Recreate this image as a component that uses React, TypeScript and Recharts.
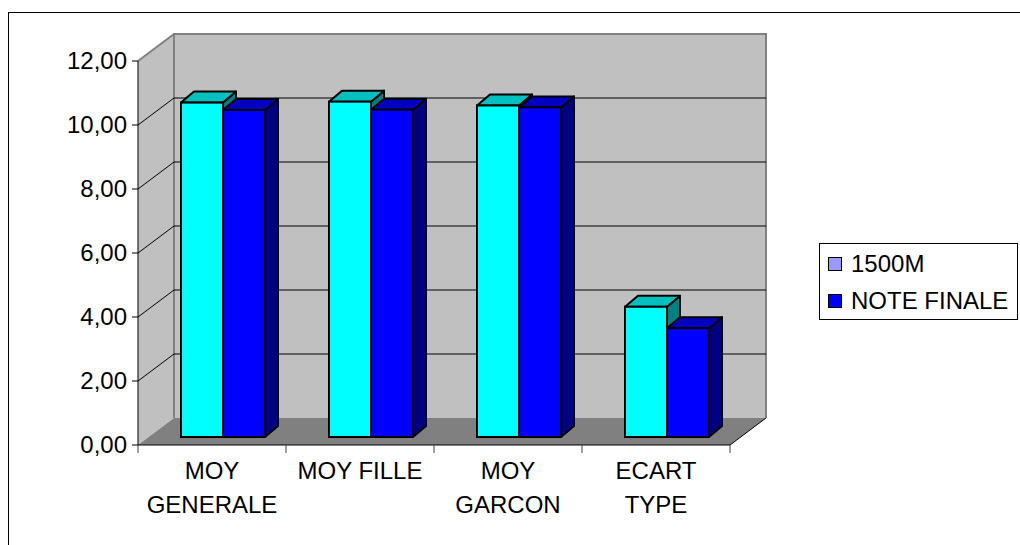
import React from 'react';
import { BarChart, Bar, XAxis, YAxis, CartesianGrid, Legend } from 'recharts';

const categories = ['MOY GENERALE', 'MOY FILLE', 'MOY GARCON', 'ECART TYPE'];
const run1500 = [10.45, 10.48, 10.36, 4.07];
const noteFinale = [10.22, 10.23, 10.3, 3.4];
const yTicks = [0, 2, 4, 6, 8, 10, 12];
const seriesNames = ['1500M', 'NOTE FINALE'];
const legendSwatches = ['#9999FF', '#0000FF'];

const data = categories.map((name, i) => ({ name, m1500: run1500[i], note: noteFinale[i] }));

const W = 1020;
const H = 545;
const PLOT_LEFT = 174;
const PLOT_TOP = 34;
const PLOT_RIGHT = 766;
const PLOT_BOTTOM = 418;

// oblique depth of the whole box (back wall -> front axis)
const DX = 36;
const DY = 27;
// bars sit at mid depth, and have their own thickness
const SX = -25;
const SY = 19;
const BX = 13;
const BY = 11;

const FONT = 'Arial, "Liberation Sans", sans-serif';
const FS = 24;

const BAR_COLORS = [
  { front: '#00FFFF', top: '#00C0C0', side: '#008080' },
  { front: '#0000FF', top: '#0000C0', side: '#000080' },
];

const fmt = (v: number) => v.toFixed(2).replace('.', ',');

function gridLine(props: any) {
  const { x1, y1, x2, y2 } = props;
  const left = props.x ?? PLOT_LEFT;
  const top = props.y ?? PLOT_TOP;
  const right = left + (props.width ?? PLOT_RIGHT - PLOT_LEFT);
  const bottom = top + (props.height ?? PLOT_BOTTOM - PLOT_TOP);

  if (Math.abs(y1 - bottom) < 0.5) {
    const fl = left - DX;
    const fr = right - DX;
    const fb = bottom + DY;
    const ft = top + DY;
    return (
      <g>
        <polygon points={`${left},${top} ${left},${bottom} ${fl},${fb} ${fl},${ft}`} fill="#c0c0c0" />
        <polygon points={`${fl},${fb} ${fr},${fb} ${right},${bottom} ${left},${bottom}`} fill="#808080" />
        <line x1={fl} y1={ft} x2={left} y2={top} stroke="#808080" strokeWidth={2} />
        <path d={`M${left},${bottom} L${left},${top} L${right},${top} L${right},${bottom}`} fill="none" stroke="#808080" strokeWidth={2} />
        <line x1={fl} y1={ft} x2={fl} y2={fb} stroke="#000" strokeWidth={1} />
        <line x1={fl} y1={fb} x2={fr} y2={fb} stroke="#000" strokeWidth={1} />
        <line x1={fr} y1={fb} x2={right} y2={bottom} stroke="#000" strokeWidth={1} />
      </g>
    );
  }
  if (Math.abs(y1 - top) < 0.5) return <g />;
  return <line x1={x1} y1={y1} x2={x2} y2={y2} stroke="#000" strokeWidth={1} />;
}

function YTick(props: any) {
  const { x, y, payload } = props;
  const v = payload.value;
  const fx = x - DX;
  const fy = y + DY;
  const edge = v === yTicks[0] || v === yTicks[yTicks.length - 1];
  return (
    <g>
      {!edge && <line x1={x} y1={y} x2={fx} y2={fy} stroke="#000" strokeWidth={1} />}
      <line x1={fx - 6} y1={fy} x2={fx} y2={fy} stroke="#000" strokeWidth={1} />
      <text x={fx - 11} y={fy + 8} textAnchor="end" fontFamily={FONT} fontSize={FS} fill="#000">
        {fmt(v)}
      </text>
    </g>
  );
}

function XTick(props: any) {
  const { x, y, payload, index, visibleTicksCount } = props;
  const half = payload.offset || 74;
  const fx = x - DX;
  const fy = y + DY;
  const label: string = payload.value;
  const lines = label.length >= 10 ? label.split(' ') : [label];
  return (
    <g>
      <line x1={fx - half} y1={fy} x2={fx - half} y2={fy + 8} stroke="#404040" strokeWidth={1} />
      {index === visibleTicksCount - 1 && (
        <line x1={fx + half} y1={fy} x2={fx + half} y2={fy + 8} stroke="#404040" strokeWidth={1} />
      )}
      <text textAnchor="middle" fontFamily={FONT} fontSize={FS} fill="#000">
        {lines.map((l, i) => (
          <tspan key={i} x={fx} y={fy + 34 + i * 34}>
            {l}
          </tspan>
        ))}
      </text>
    </g>
  );
}

function makeBox(c: { front: string; top: string; side: string }) {
  return (props: any) => {
    const { x, y, width, height } = props;
    if (!height) return <g />;
    const x0 = x + SX;
    const y0 = y + SY;
    const x1 = x0 + width;
    const y1 = y0 + height;
    return (
      <g>
        <polygon
          points={`${x1},${y0} ${x1 + BX},${y0 - BY} ${x1 + BX},${y1 - BY} ${x1},${y1}`}
          fill={c.side}
          stroke="#000"
          strokeWidth={2}
          strokeLinejoin="round"
        />
        <polygon
          points={`${x0},${y0} ${x0 + BX},${y0 - BY} ${x1 + BX},${y0 - BY} ${x1},${y0}`}
          fill={c.top}
          stroke="#000"
          strokeWidth={2}
          strokeLinejoin="round"
        />
        <rect x={x0} y={y0} width={width} height={height} fill={c.front} stroke="#000" strokeWidth={2} />
      </g>
    );
  };
}

function LegendBox(props: any) {
  const items = props.payload || [];
  return (
    <div
      style={{
        width: 199,
        height: 77,
        border: '1px solid #000',
        boxSizing: 'border-box',
        background: '#fff',
        position: 'relative',
        fontFamily: FONT,
        fontSize: FS,
        color: '#000',
      }}
    >
      {items.map((it: any, i: number) => (
        <div
          key={i}
          style={{ position: 'absolute', left: 8, top: 20 + i * 37 - 14, height: 28, display: 'flex', alignItems: 'center' }}
        >
          <span
            style={{
              display: 'inline-block',
              width: 12,
              height: 12,
              border: '1.5px solid #000',
              background: legendSwatches[i],
              marginRight: 9,
            }}
          />
          <span style={{ lineHeight: '28px', whiteSpace: 'nowrap' }}>{it.value}</span>
        </div>
      ))}
    </div>
  );
}

export default function App() {
  return (
    <div style={{ position: 'absolute', left: 0, top: 0, width: W, height: H, overflow: 'hidden', background: '#fff' }}>
      <div style={{ position: 'absolute', left: 8, top: 12, width: 1100, height: 700, border: '1px solid #000' }} />
      <div style={{ position: 'absolute', left: 0, top: 0 }}>
        <BarChart
          width={W}
          height={H}
          data={data}
          margin={{ top: PLOT_TOP, right: W - PLOT_RIGHT, bottom: 0, left: 0 }}
          barCategoryGap={32}
          barGap={0}
        >
          <CartesianGrid vertical={false} horizontal={gridLine} fill="#c0c0c0" fillOpacity={1} stroke="#000" />
          <XAxis
            dataKey="name"
            height={H - PLOT_BOTTOM}
            axisLine={false}
            tickLine={false}
            tickSize={0}
            tickMargin={0}
            interval={0}
            tick={<XTick />}
          />
          <YAxis
            width={PLOT_LEFT}
            domain={[0, 12]}
            ticks={yTicks}
            axisLine={false}
            tickLine={false}
            tickSize={0}
            tickMargin={0}
            interval={0}
            tick={<YTick />}
          />
          <Legend
            layout="vertical"
            align="center"
            verticalAlign="middle"
            content={<LegendBox />}
            wrapperStyle={{ left: 819, top: 243, width: 199, height: 77 }}
          />
          <Bar dataKey="m1500" name={seriesNames[0]} fill={BAR_COLORS[0].front} shape={makeBox(BAR_COLORS[0])} isAnimationActive={false} />
          <Bar dataKey="note" name={seriesNames[1]} fill={BAR_COLORS[1].front} shape={makeBox(BAR_COLORS[1])} isAnimationActive={false} />
        </BarChart>
      </div>
    </div>
  );
}
